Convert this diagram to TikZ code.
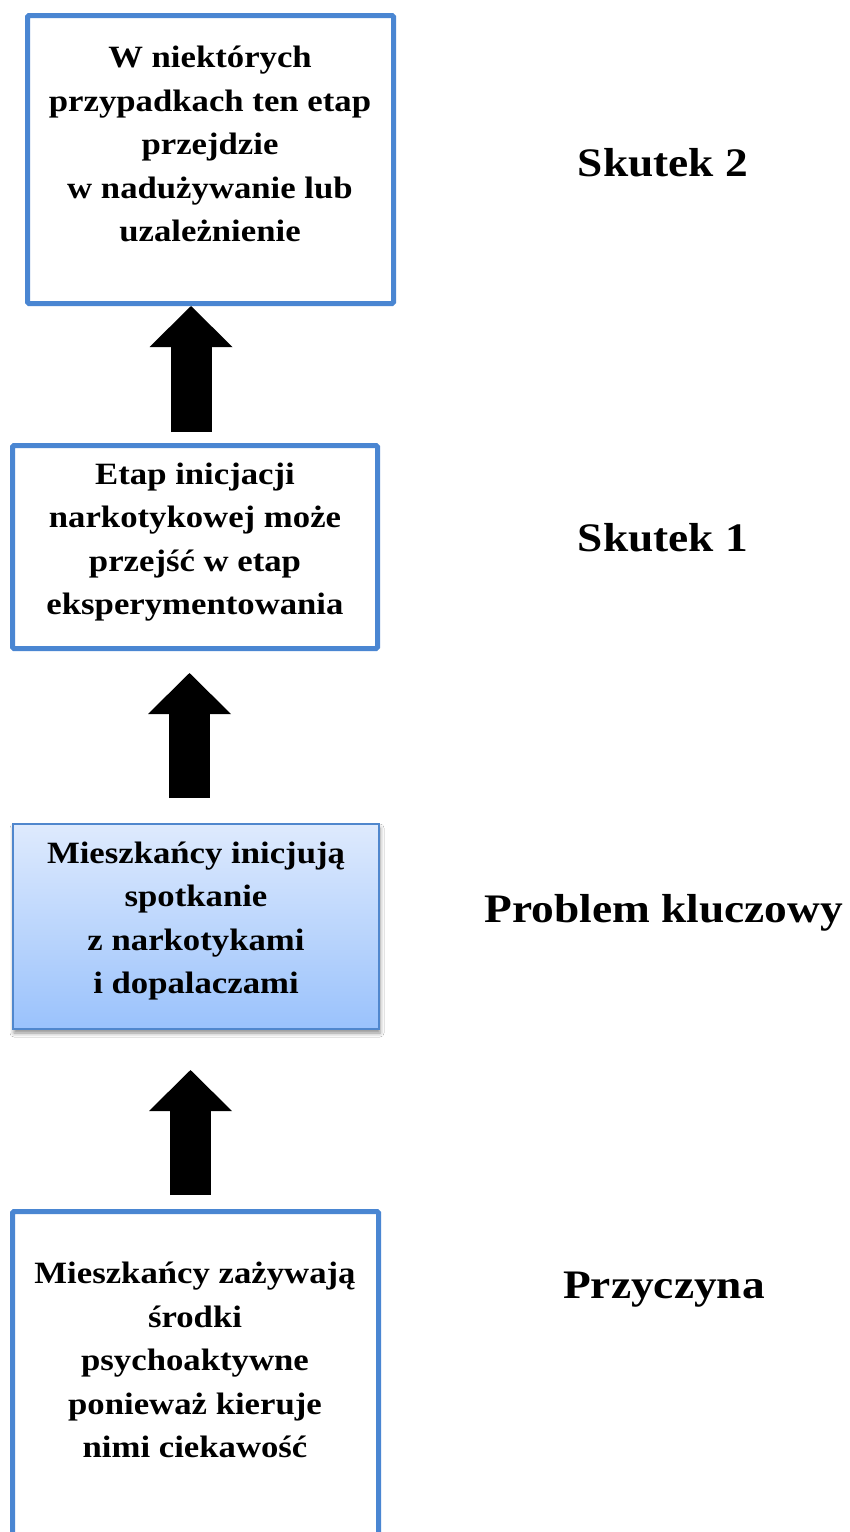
\documentclass[tikz,border=0pt]{standalone}
\usepackage{fontspec}
\setmainfont{Liberation Serif}[FakeStretch=1.12]
\usetikzlibrary{arrows.meta,calc,shadows.blur}
\definecolor{boxblue}{RGB}{74,134,210}
\definecolor{keyblue}{RGB}{80,135,205}
\definecolor{gradtop}{RGB}{222,234,253}
\definecolor{gradbot}{RGB}{154,194,252}
\tikzset{
  box/.style={draw=boxblue, line width=5pt, fill=white, inner sep=0pt, rounded corners=1.5pt},
  keybox/.style={draw=keyblue, line width=2pt, top color=gradtop, bottom color=gradbot,
    inner sep=0pt, blur shadow={shadow xshift=1pt, shadow yshift=-4pt, shadow blur radius=4pt, shadow opacity=45}},
  boxtext/.style={align=center, font=\fontsize{31}{43.5}\selectfont\bfseries, inner sep=0pt},
  sidelabel/.style={font=\fontsize{40.5}{46}\selectfont\bfseries, inner sep=0pt},
  bigarrow/.style={line width=41pt, -{Triangle[width=83pt,length=41pt,line width=0pt]}}
}
\begin{document}
\begin{tikzpicture}[x=1pt,y=-1pt]
\useasboundingbox (0,0) rectangle (850,1532);
\fill[white] (0,0) rectangle (850,1532);
\clip (0,0) rectangle (850,1532);
% boxes
\node[box, minimum width=366pt, minimum height=288pt] (b1) at (210.5,159.5) {};
\node[box, minimum width=365pt, minimum height=203pt] (b2) at (195,547) {};
\node[keybox, minimum width=366pt, minimum height=205pt] (b3) at (196,926.5) {};
\node[box, minimum width=366pt, minimum height=348pt] (b4) at (195.5,1385.5) {};
% texts
\node[boxtext] (t1) at (210,144) {W niektórych\\przypadkach ten etap\\przejdzie\\w nadużywanie lub\\uzależnienie};
\node[boxtext] (t2) at (195,542) {Etap inicjacji\\narkotykowej może\\przejść w etap\\eksperymentowania};
\node[boxtext] (t3) at (196,921) {Mieszkańcy inicjują\\spotkanie\\z narkotykami\\i dopalaczami};
\node[boxtext] (t4) at (195,1360) {Mieszkańcy zażywają\\środki\\psychoaktywne\\ponieważ kieruje\\nimi ciekawość};
% side labels
\node[sidelabel] (l1) at (663,163) {Skutek 2};
\node[sidelabel] (l2) at (663,538) {Skutek 1};
\node[sidelabel] (l3) at (664,913) {Problem kluczowy};
\node[sidelabel] (l4) at (664,1290) {Przyczyna};
% arrows
\draw[bigarrow] ($(b2.north)+(-4,-11)$) -- ($(b1.south)+(-19.5,0)$);
\draw[bigarrow] ($(b3.north)+(-6.5,-25)$) -- ($(b2.south)+(-5.5,22)$);
\draw[bigarrow] ($(b4.north)+(-5,-14)$) -- ($(b3.south)+(-5.5,40)$);
\end{tikzpicture}
\end{document}
